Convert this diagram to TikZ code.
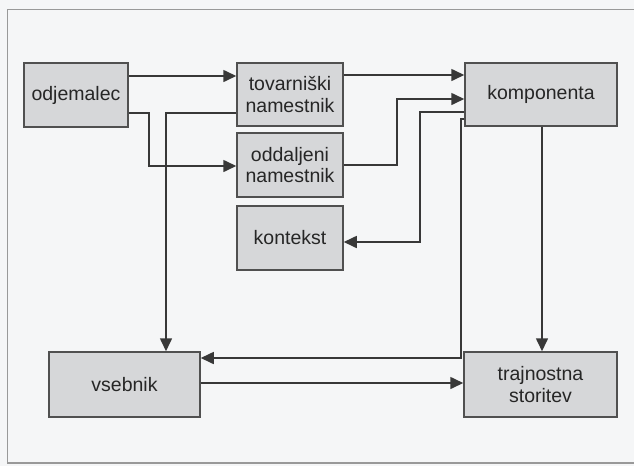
\documentclass[tikz,border=0pt]{standalone}
\usepackage{fontspec}
\setmainfont{Liberation Sans}
\usetikzlibrary{arrows.meta}
\definecolor{bgc}{HTML}{F5F6F7}
\definecolor{boxfill}{HTML}{D6D7D9}
\definecolor{boxline}{HTML}{505050}
\definecolor{linec}{HTML}{383838}
\definecolor{txtc}{HTML}{262626}
\begin{document}
\begin{tikzpicture}[x=1pt,y=-1pt,
  blk/.style={draw=boxline,line width=1.5pt,fill=boxfill,inner sep=0pt,
    align=center,text=txtc,font=\fontsize{19.5}{21.5}\selectfont},
  conn/.style={draw=linec,line width=1.6pt},
  arr/.style={conn,-{Triangle[length=13pt,width=12pt]}}]
\useasboundingbox (0,0) rectangle (634,466);
\fill[bgc] (0,0) rectangle (634,466);
\draw[draw=gray!80,line width=1.2pt] (634,9.5) -- (7.5,9.5) -- (7.5,463) -- (634,463);
\node[blk,minimum width=104pt,minimum height=64pt] (odj) at (76,95) {odjemalec};
\node[blk,minimum width=106pt,minimum height=63pt] (tov) at (290,94.5) {tovarniški\\namestnik};
\node[blk,minimum width=152pt,minimum height=63pt] (kom) at (541,94.5) {komponenta};
\node[blk,minimum width=106pt,minimum height=64pt] (odd) at (290,165) {oddaljeni\\namestnik};
\node[blk,minimum width=106pt,minimum height=64pt] (kon) at (290,238) {kontekst};
\node[blk,minimum width=151pt,minimum height=65pt] (vse) at (124.5,384.5) {vsebnik};
\node[blk,minimum width=153pt,minimum height=65pt] (tra) at (540.5,384.5) {trajnostna\\storitev};
% connectors
\draw[arr] (odj.east |- 0,76) -- (tov.west |- 0,76);
\draw[arr] (odj.east |- 0,113) -- (149,113) -- (149,166) -- (odd.west |- 0,166);
\draw[arr] (tov.west |- 0,113) -- (166,113) -- (vse.north -| 166,0);
\draw[arr] (tov.east |- 0,75) -- (kom.west |- 0,75);
\draw[arr] (odd.east |- 0,165) -- (397,165) -- (397,99) -- (kom.west |- 0,99);
\draw[arr] (kom.west |- 0,112) -- (420,112) -- (420,242) -- (kon.east |- 0,242);
\draw[arr] (kom.west |- 0,119) -- (461,119) -- (461,358) -- (vse.east |- 0,358);
\draw[arr] (kom.south -| 542,0) -- (tra.north -| 542,0);
\draw[arr] (vse.east |- 0,383) -- (tra.west |- 0,383);
\end{tikzpicture}
\end{document}
